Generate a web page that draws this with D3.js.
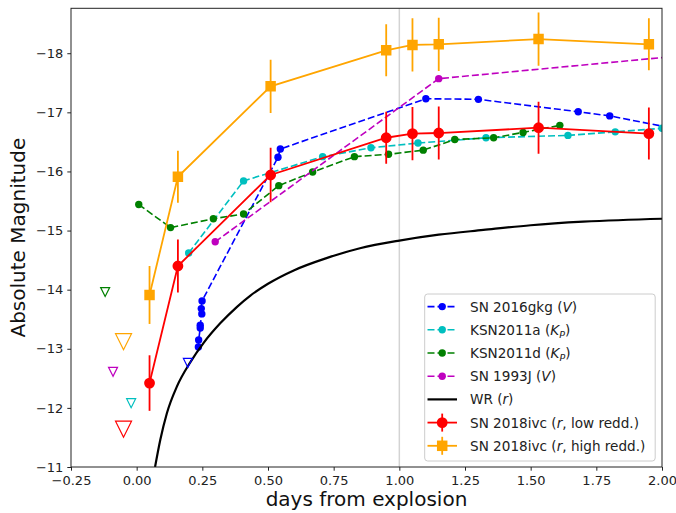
<!DOCTYPE html>
<html>
<head>
<meta charset="utf-8">
<script src="https://cdn.jsdelivr.net/npm/d3@7"></script>
<style>
  body { margin: 0; background: #fff; }
  svg { display: block; font-family: "DejaVu Sans", sans-serif; }
</style>
</head>
<body>
<svg width="676" height="513"></svg>
<script>
// Light curves (days from explosion, absolute mag)
const gkgDays = [0.235, 0.236, 0.242, 0.242, 0.248, 0.246, 0.249, 0.538, 0.547, 1.101, 1.301, 1.681, 1.801, 2.10];
const gkgMag = [-13.03, -13.15, -13.35, -13.40, -13.59, -13.68, -13.81, -16.24, -16.38, -17.23, -17.22, -17.01, -16.94, -16.68];

const ksnaDays = [0.198, 0.407, 0.708, 0.892, 1.071, 1.330, 1.642, 1.822, 2.0];
const ksnaMag = [-14.62, -15.84, -16.25, -16.40, -16.48, -16.57, -16.61, -16.67, -16.73];

const ksndDays = [0.008, 0.129, 0.292, 0.407, 0.541, 0.670, 0.829, 0.959, 1.091, 1.211, 1.359, 1.471, 1.611];
const ksndMag = [-15.44, -15.05, -15.20, -15.28, -15.76, -15.99, -16.25, -16.29, -16.36, -16.54, -16.57, -16.66, -16.78];

const j93Days = [0.299, 1.150, 2.20];
const j93Mag = [-14.81, -17.57, -18.01];

// WR model curve
const wrDays = [0.07, 0.09, 0.115, 0.153, 0.204, 0.255, 0.318, 0.382, 0.433, 0.50, 0.60, 0.72, 0.85, 1.0, 1.15, 1.32, 1.5, 1.7, 2.0, 2.1];
const wrMag = [-11.0, -11.46, -11.91, -12.36, -12.77, -13.10, -13.43, -13.71, -13.90, -14.10, -14.33, -14.53, -14.70, -14.83, -14.93, -15.01, -15.09, -15.15, -15.20, -15.21];

// SN 2018ivc
const ivcDays = [0.049, 0.157, 0.51, 0.95, 1.05, 1.15, 1.53, 1.95];
const ivcLowMag = [-12.42, -14.40, -15.94, -16.57, -16.64, -16.65, -16.74, -16.64];
const ivcLowErr = [0.47, 0.45, 0.46, 0.44, 0.45, 0.45, 0.44, 0.44];
const ivcHighMag = [-13.91, -15.91, -17.44, -18.05, -18.14, -18.15, -18.24, -18.15];
const ivcHighErr = [0.49, 0.44, 0.45, 0.44, 0.45, 0.45, 0.45, 0.44];

// upper limits (open triangles)
const limDays = [-0.12, -0.05, -0.09, 0.195, -0.021, -0.05];
const limMag = [-13.96, -13.12, -12.61, -12.76, -12.08, -11.64];
const limColor = ["green", "orange", "#bf00bf", "blue", "#00bfbf", "red"];
const limSize = [9, 16, 9, 9, 9, 16];

const xTicks = [-0.25, 0, 0.25, 0.5, 0.75, 1.0, 1.25, 1.5, 1.75, 2.0];
const xTickLabels = ["−0.25", "0.00", "0.25", "0.50", "0.75", "1.00", "1.25", "1.50", "1.75", "2.00"];
const yTicks = [-11, -12, -13, -14, -15, -16, -17, -18];
const yTickLabels = ["−11", "−12", "−13", "−14", "−15", "−16", "−17", "−18"];

const axLeft = 71, axRight = 662, axTop = 8.3, axBottom = 467;

const svg = d3.select("svg");

const x = d3.scaleLinear().domain([-0.25, 2.0]).range([axLeft, axRight]);
const y = d3.scaleLinear().domain([-11, -18.76]).range([axBottom, axTop]);

const zip = (a, b) => a.map((d, i) => [d, b[i]]);

svg.append("clipPath").attr("id", "plot")
  .append("rect")
  .attr("x", axLeft).attr("y", axTop)
  .attr("width", axRight - axLeft).attr("height", axBottom - axTop);

const plot = svg.append("g").attr("clip-path", "url(#plot)");

// t = 1 day marker
plot.append("line")
  .attr("x1", x(1)).attr("x2", x(1))
  .attr("y1", axTop).attr("y2", axBottom)
  .attr("stroke", "#d3d3d3").attr("stroke-width", 1.5);

const line = d3.line().x((d) => x(d[0])).y((d) => y(d[1]));

// dashed comparison objects
const comps = [
  { days: gkgDays, mag: gkgMag, color: "blue" },
  { days: ksnaDays, mag: ksnaMag, color: "#00bfbf" },
  { days: ksndDays, mag: ksndMag, color: "green" },
  { days: j93Days, mag: j93Mag, color: "#bf00bf" },
];

comps.forEach((c) => {
  const pts = zip(c.days, c.mag);
  plot.append("path")
    .datum(pts)
    .attr("fill", "none")
    .attr("stroke", c.color)
    .attr("stroke-width", 1.6)
    .attr("stroke-dasharray", "7,3")
    .attr("d", line);
  plot.append("g")
    .selectAll("circle")
    .data(pts)
    .enter()
    .append("circle")
    .attr("cx", (d) => x(d[0]))
    .attr("cy", (d) => y(d[1]))
    .attr("r", 3.7)
    .attr("fill", c.color);
});

// WR model
plot.append("path")
  .datum(zip(wrDays, wrMag))
  .attr("fill", "none")
  .attr("stroke", "black")
  .attr("stroke-width", 2.2)
  .attr("d", d3.line().x((d) => x(d[0])).y((d) => y(d[1])).curve(d3.curveMonotoneX));

// SN 2018ivc with error bars
function drawIvc(mag, err, color, square) {
  const pts = ivcDays.map((d, i) => ({ t: d, m: mag[i], e: err[i] }));
  plot.append("path")
    .datum(pts.map((p) => [p.t, p.m]))
    .attr("fill", "none")
    .attr("stroke", color)
    .attr("stroke-width", 1.8)
    .attr("d", line);
  plot.append("g")
    .selectAll("line")
    .data(pts)
    .enter()
    .append("line")
    .attr("x1", (d) => x(d.t)).attr("x2", (d) => x(d.t))
    .attr("y1", (d) => y(d.m - d.e)).attr("y2", (d) => y(d.m + d.e))
    .attr("stroke", color)
    .attr("stroke-width", 1.8);
  plot.append("g")
    .selectAll("path")
    .data(pts)
    .enter()
    .append("path")
    .attr("transform", (d) => `translate(${x(d.t)},${y(d.m)})`)
    .attr("d", d3.symbol().type(square ? d3.symbolSquare : d3.symbolCircle).size(square ? 110 : 92))
    .attr("fill", color);
}
drawIvc(ivcLowMag, ivcLowErr, "red", false);
drawIvc(ivcHighMag, ivcHighErr, "orange", true);

// downward triangle like matplotlib "v" (width = height = size)
const triDown = {
  draw(ctx, s) {
    const h = s / 2;
    ctx.moveTo(0, h);
    ctx.lineTo(-h, -h);
    ctx.lineTo(h, -h);
    ctx.closePath();
  },
};
plot.append("g")
  .selectAll("path")
  .data(limDays.map((d, i) => ({ t: d, m: limMag[i], c: limColor[i], s: limSize[i] })))
  .enter()
  .append("path")
  .attr("transform", (d) => `translate(${x(d.t)},${y(d.m)})`)
  .attr("d", (d) => d3.symbol().type(triDown).size(d.s)())
  .attr("fill", "none")
  .attr("stroke", (d) => d.c)
  .attr("stroke-width", 1.2);

// axes
const xAxis = d3.axisBottom(x).tickValues(xTicks)
  .tickFormat((d, i) => xTickLabels[i]).tickSize(3.7).tickPadding(5.5);
const yAxis = d3.axisLeft(y).tickValues(yTicks)
  .tickFormat((d, i) => yTickLabels[i]).tickSize(3.7).tickPadding(4);

const gx = svg.append("g").attr("transform", `translate(0,${axBottom})`).call(xAxis);
const gy = svg.append("g").attr("transform", `translate(${axLeft},0)`).call(yAxis);
[gx, gy].forEach((g) => {
  g.select(".domain").remove();
  g.selectAll("text").attr("font-size", 13).attr("fill", "#222").attr("font-family", "DejaVu Sans");
  g.selectAll("line").attr("stroke", "#222");
});

svg.append("rect")
  .attr("x", axLeft).attr("y", axTop)
  .attr("width", axRight - axLeft).attr("height", axBottom - axTop)
  .attr("fill", "none").attr("stroke", "#222").attr("stroke-width", 1);

svg.append("text")
  .attr("x", (axLeft + axRight) / 2).attr("y", 506)
  .attr("text-anchor", "middle")
  .attr("font-size", 20).attr("fill", "#111")
  .text("days from explosion");

svg.append("text")
  .attr("transform", `translate(25,${(axTop + axBottom) / 2}) rotate(-90)`)
  .attr("text-anchor", "middle")
  .attr("font-size", 20).attr("fill", "#111")
  .text("Absolute Magnitude");

// legend
const legendLabels = [
  [["SN 2016gkg (", ""], ["V", "i"], [")", ""]],
  [["KSN2011a (", ""], ["K", "i"], ["P", "sub"], [")", ""]],
  [["KSN2011d (", ""], ["K", "i"], ["P", "sub"], [")", ""]],
  [["SN 1993J (", ""], ["V", "i"], [")", ""]],
  [["WR (", ""], ["r", "i"], [")", ""]],
  [["SN 2018ivc (", ""], ["r", "i"], [", low redd.)", ""]],
  [["SN 2018ivc (", ""], ["r", "i"], [", high redd.)", ""]],
];
const legendKinds = ["dash", "dash", "dash", "dash", "solid", "err", "err"];
const legendColors = ["blue", "#00bfbf", "green", "#bf00bf", "black", "red", "orange"];

const lg = svg.append("g");
lg.append("rect")
  .attr("x", 424.7).attr("y", 294)
  .attr("width", 230.5).attr("height", 167)
  .attr("rx", 3)
  .attr("fill", "white").attr("fill-opacity", 0.8)
  .attr("stroke", "#cccccc").attr("stroke-width", 1);

legendLabels.forEach((parts, i) => {
  const ry = 306.6 + i * 23.2;
  const col = legendColors[i];
  const kind = legendKinds[i];
  const row = lg.append("g");
  row.append("line")
    .attr("x1", 427.5).attr("x2", 457).attr("y1", ry).attr("y2", ry)
    .attr("stroke", col)
    .attr("stroke-width", kind === "dash" ? 1.6 : kind === "solid" ? 2.2 : 1.8)
    .attr("stroke-dasharray", kind === "dash" ? "7,3" : null);
  if (kind === "dash") {
    row.append("circle").attr("cx", 442.2).attr("cy", ry).attr("r", 3.7).attr("fill", col);
  }
  if (kind === "err") {
    row.append("line")
      .attr("x1", 442.2).attr("x2", 442.2).attr("y1", ry - 9).attr("y2", ry + 9)
      .attr("stroke", col).attr("stroke-width", 1.8);
    row.append("path")
      .attr("transform", `translate(442.2,${ry})`)
      .attr("d", d3.symbol().type(i === 6 ? d3.symbolSquare : d3.symbolCircle).size(i === 6 ? 110 : 92))
      .attr("fill", col);
  }
  const t = row.append("text")
    .attr("x", 470).attr("y", ry + 4.9)
    .attr("font-size", 13.6).attr("fill", "#222");
  parts.forEach((p) => {
    const s = t.append("tspan").text(p[0]);
    if (p[1] === "i") s.attr("font-style", "italic");
    if (p[1] === "sub") s.attr("font-style", "italic").attr("font-size", 9.5).attr("dy", 3);
    if (p[1] === "" && parts.some((q) => q[1] === "sub") && p[0] === ")") s.attr("dy", -3);
  });
});
</script>
</body>
</html>
